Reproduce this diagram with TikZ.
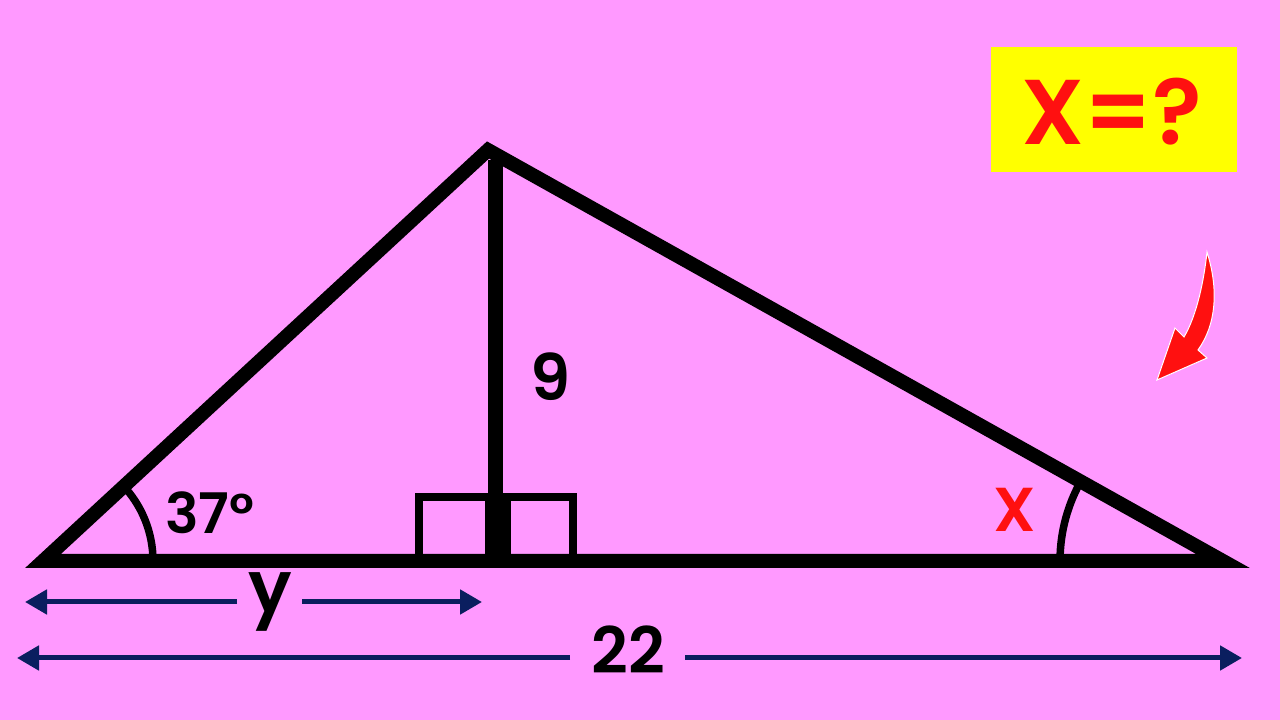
\documentclass[tikz,border=0pt]{standalone}
\usepackage{fontspec}
\setmainfont{Poppins}[BoldFont={Poppins SemiBold}]
\usetikzlibrary{arrows.meta,calc}
\definecolor{bgpink}{HTML}{FF99FF}
\definecolor{navy}{RGB}{10,30,95}
\definecolor{boxyellow}{HTML}{FFFF00}
\definecolor{redx}{HTML}{FF1010}
\tikzset{
  side/.style={line width=14pt, line join=miter, miter limit=10},
  altline/.style={line width=15pt},
  rsq/.style={line width=8pt},
  anglearc/.style={line width=7.5pt},
  dimline/.style={draw=navy, line width=5pt, -{Triangle[length=22pt,width=24pt]}},
  lbl/.style={inner sep=0pt, font=\bfseries\fontsize{#1}{#1}\selectfont},
}
\begin{document}
\begin{tikzpicture}[x=1pt,y=1pt]
\fill[bgpink] (0,0) rectangle (1280,720);
\useasboundingbox (0,0) rectangle (1280,720);
% vertices
\coordinate (A) at (43,159);
\coordinate (B) at (488,570);
\coordinate (C) at (1223,159);
\coordinate (H) at (495,159);
\coordinate (Htop) at (495,560);
% right-angle squares
\draw[rsq] (419,159) rectangle (489,223);
\draw[rsq] (507,159) rectangle (573,223);
% altitude
\draw[altline] (Htop) -- (H);
% triangle
\draw[side] (A) -- (B) -- (C) -- cycle;
% angle arcs
\draw[anglearc] (A) ++(0:110) arc[start angle=0,end angle=44,radius=110];
\draw[anglearc] (C) ++(180:163) arc[start angle=180,end angle=149,radius=163];
% labels
\node[lbl=56] (ang) at (210,207) {37°};
\node[lbl=64] (nine) at (551,343) {9};
\node[lbl=62, text=redx] (xl) at (1015,210) {X};
% dimension y
\node[lbl=72] (ylab) at (270,118) {y};
\coordinate (yL) at (25,118);
\coordinate (yR) at (482,118);
\coordinate (yg1) at (237,118);
\coordinate (yg2) at (302,118);
\draw[dimline] (yg1) -- (yL);
\draw[dimline] (yg2) -- (yR);
% dimension 22
\node[lbl=64] (tt) at (628,70) {22};
\coordinate (tL) at (17,62);
\coordinate (tR) at (1242,62);
\coordinate (tg1) at (570,62);
\coordinate (tg2) at (685,62);
\draw[dimline] (tg1) -- (tL);
\draw[dimline] (tg2) -- (tR);
% question box
\node[fill=boxyellow, minimum width=246pt, minimum height=125pt, inner sep=0pt] (qbox) at (1114,610.5) {};
\node[lbl=92, text=redx] (qtext) at (1112,608) {X=?};
% red curved arrow
\fill[redx, draw=white, line width=1pt, line join=miter]
  (1207,468) .. controls (1219,430) and (1216,395) .. (1198,370)
  -- (1207,362) -- (1157,340) -- (1175,392) -- (1184,383)
  .. controls (1197,405) and (1204,440) .. (1207,468) -- cycle;
\end{tikzpicture}
\end{document}
